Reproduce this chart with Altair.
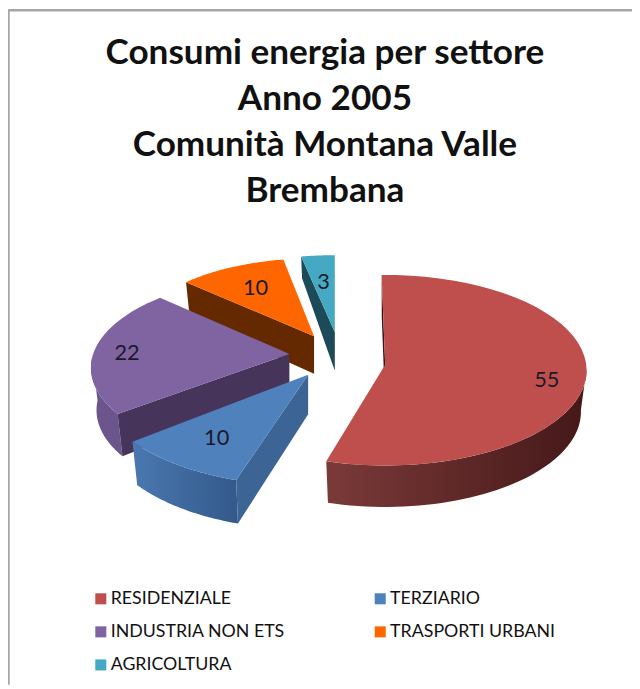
import math
import altair as alt

TITLE_LINES = ["Consumi energia per settore", "Anno 2005", "Comunità Montana Valle", "Brembana"]
CATEGORIES = ["RESIDENZIALE", "TERZIARIO", "INDUSTRIA NON ETS", "TRASPORTI URBANI", "AGRICOLTURA"]
VALUES = [55, 10, 22, 10, 3]
COLORS = ["#BE4F4D", "#4F81BD", "#8064A2", "#FF6600", "#46A9C4"]

W, H = 632, 681
MX, MY = 2, 3  # offset between the layout's pixels and the plot area

# exploded-3D layout of each slice, in page pixels
SLICE_LAYOUT = [
    dict(apex=(384, 360), c=(384, 365.5), rx=204, ry=96.5, rot=-1, da=42, dr=42, t=0.81),
    dict(apex=(306, 370), c=(298, 375), rx=210, ry=107, rot=0, da=40, dr=44, t=0.705),
    dict(apex=(287, 349), c=(288, 363), rx=202, ry=93.5, rot=6, da=37, dr=43, t=0.83),
    dict(apex=(312, 331), c=(315, 329), rx=182, ry=77, rot=0, da=38, dr=36, t=0.70),
    dict(apex=(333, 327), c=(333, 324), rx=182, ry=75, rot=0, da=39, dr=22, t=0.66),
]
SHRINK = 0.972
IDENTITY = {"type": "identity", "scale": 1, "translate": [0, 0]}


def rim(s, deg, low=False):
    a = math.radians(deg + s["rot"])
    k = SHRINK if low else 1.0
    return (s["c"][0] + k * s["rx"] * math.sin(a),
            s["c"][1] - s["ry"] * math.cos(a) + (s["dr"] if low else 0))


def apex(s, low=False):
    return (s["apex"][0], s["apex"][1] + (s["da"] if low else 0))


def arc(s, a0, a1, low=False, n=48):
    return [rim(s, a0 + (a1 - a0) * i / n, low) for i in range(n + 1)]


def feature(points, name=""):
    ring = [[p[0] - MX, p[1] - MY] for p in points]
    ring.append(ring[0])
    return {"type": "Feature", "properties": {"name": name},
            "geometry": {"type": "Polygon", "coordinates": [ring]}}


def band(s, a0, a1):
    return feature(arc(s, a0, a1) + arc(s, a0, a1, True)[::-1])


def flank(s, deg):
    return feature([apex(s), rim(s, deg), rim(s, deg, True), apex(s, True)])


def shape(feat, fill):
    return alt.Chart(alt.Data(values=[feat])).mark_geoshape(
        fill=fill, strokeWidth=0).project(**IDENTITY)


def grad(c0, c1):
    return alt.Gradient(gradient="linear", x1=0, x2=1, y1=0, y2=0,
                        stops=[alt.GradientStop(color=c0, offset=0),
                               alt.GradientStop(color=c1, offset=1)])


total = sum(VALUES)
spans = []
acc = 0
for v in VALUES:
    spans.append((acc * 360 / total, (acc + v) * 360 / total))
    acc += v

tops = []
for s, (a0, a1), name in zip(SLICE_LAYOUT, spans, CATEGORIES):
    tops.append(feature([apex(s)] + arc(s, a0, a1), name))


def top_layer(i):
    return alt.Chart(alt.Data(values=[tops[i]])).mark_geoshape(strokeWidth=0).encode(
        fill=alt.Fill("properties.name:N",
                      scale=alt.Scale(domain=CATEGORIES, range=COLORS),
                      sort=None,
                      legend=alt.Legend(
                          orient="none", legendX=85, legendY=585, columns=2, title=None,
                          direction="horizontal",
                          symbolType="square", symbolSize=125, symbolStrokeWidth=0,
                          labelFont="Lato", labelFontSize=18, labelColor="#111111",
                          labelLimit=260, columnPadding=87, rowPadding=15.5, symbolOffset=0,
                          labelOffset=1))
    ).project(**IDENTITY)


RED, BLUE, PURPLE, ORANGE, TEAL = SLICE_LAYOUT
sp = spans
layers = [
    # frame
    alt.Chart(alt.Data(values=[{"k": 0}])).mark_rule(color="#A6A6A6", strokeWidth=2.5).encode(
        x=alt.value(0.5), y=alt.value(-2), y2=alt.value(H)),
    alt.Chart(alt.Data(values=[{"k": 0}])).mark_rule(color="#A6A6A6", strokeWidth=2.5).encode(
        y=alt.value(-2), x=alt.value(0), x2=alt.value(W)),
    # agricoltura
    shape(flank(TEAL, sp[4][0]), "#1C4A58"),
    top_layer(4),
    # trasporti
    shape(flank(ORANGE, sp[3][0]), "#652900"),
    top_layer(3),
    # industria
    shape(band(PURPLE, sp[2][0], 270), "#6C558C"),
    shape(flank(PURPLE, sp[2][0]), "#47345A"),
    top_layer(2),
    # terziario
    shape(band(BLUE, sp[1][0], sp[1][1]), grad("#4A78B0", "#33598A")),
    shape(flank(BLUE, sp[1][0]), "#3C6494"),
    top_layer(1),
    # residenziale
    shape(flank(RED, sp[0][0]), "#3A1515"),
    shape(band(RED, 90, sp[0][1]), grad("#7A3A39", "#451818")),
    top_layer(0),
]

labels = []
for s, (a0, a1), v in zip(SLICE_LAYOUT, spans, VALUES):
    p = rim(s, (a0 + a1) / 2)
    q = apex(s)
    labels.append({"lon": q[0] + (p[0] - q[0]) * s["t"] - MX,
                   "lat": q[1] + (p[1] - q[1]) * s["t"] - MY,
                   "v": v})

layers.append(
    alt.Chart(alt.Data(values=labels)).mark_text(
        font="Lato", fontSize=22, color="#1A1A2A", align="center", baseline="middle"
    ).encode(longitude="lon:Q", latitude="lat:Q", text="v:Q").project(**IDENTITY)
)

chart = alt.layer(*layers).properties(
    width=W, height=H, padding=0,
    autosize=alt.AutoSizeParams(type="none"),
    background="white",
    title=alt.TitleParams(
        text=TITLE_LINES, font="Lato", fontSize=35.6, fontWeight="bold", color="#111111",
        lineHeight=46.5, anchor="middle", dy=207, dx=5),
).configure_view(strokeWidth=0)

chart.save("out.html", embed_options={"renderer": "svg", "actions": False})
